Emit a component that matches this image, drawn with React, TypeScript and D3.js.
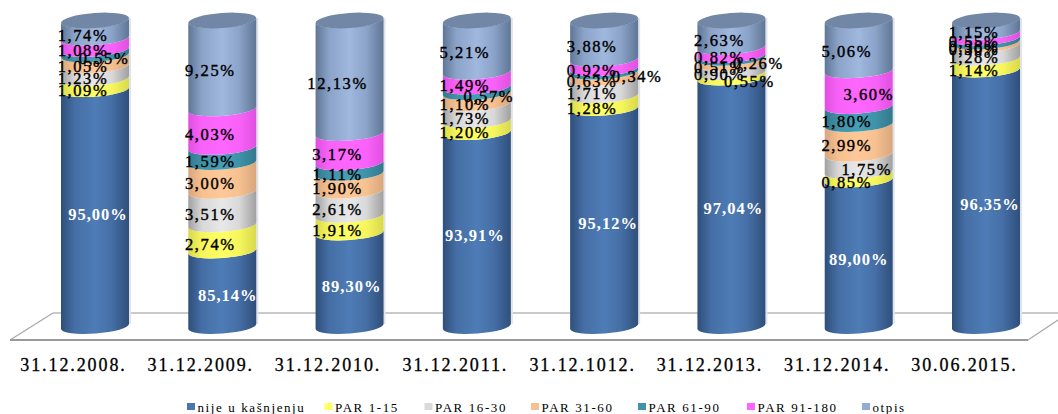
import React from "react";
import * as d3 from "d3";

const categories = ["31.12.2008.", "31.12.2009.", "31.12.2010.", "31.12.2011.", "31.12.1012.", "31.12.2013.", "31.12.2014.", "30.06.2015."];
const seriesNames = ["nije u kašnjenju", "PAR 1-15", "PAR 16-30", "PAR 31-60", "PAR 61-90", "PAR 91-180", "otpis"];
const nijeUKasnjenju = [95.0, 85.14, 89.3, 93.91, 95.12, 97.04, 89.0, 96.35];
const par1to15 = [1.09, 2.74, 1.91, 1.2, 1.28, 0.55, 0.85, 1.14];
const par16to30 = [1.23, 3.51, 2.61, 1.73, 1.71, 0.9, 1.75, 1.28];
const par31to60 = [1.05, 3.0, 1.9, 1.1, 0.63, 0.51, 2.99, 0.3];
const par61to90 = [0.55, 1.59, 1.11, 0.57, 0.34, 0.26, 1.8, 0.38];
const par91to180 = [1.08, 4.03, 3.17, 1.49, 0.92, 0.82, 3.6, 0.55];
const otpis = [1.74, 9.25, 12.13, 5.21, 3.88, 2.63, 5.06, 1.15];
const allSeries = [nijeUKasnjenju, par1to15, par16to30, par31to60, par61to90, par91to180, otpis];

// hand-moved data labels, as in the source chart (px relative to the default spot)
const BASE_DX = -12;
const blueDx = [3, 5.5, 2, -2, 4, 2, 0, 4];
const movedDx: Record<string, number> = { "0-4": 21, "3-4": 24, "4-4": 45, "5-1": 30, "5-4": 39, "6-2": 20, "6-5": 22 };
const legendSwatchX = [187, 324.5, 424.5, 531, 638, 747, 862];

const colors = [
  { edge: "#2f4f7a", mid: "#456ea5", light: "#4e7cb6" },
  { edge: "#d8d84e", mid: "#f6f65c", light: "#ffff66" },
  { edge: "#a0a0a0", mid: "#d8d8d8", light: "#e8e8e8" },
  { edge: "#d8a67e", mid: "#f6c08f", light: "#ffc899" },
  { edge: "#34788c", mid: "#3f92a8", light: "#469fb6" },
  { edge: "#e050e0", mid: "#f862f8", light: "#ff66ff" },
  { edge: "#5f7696", mid: "#8ba3c8", light: "#a0b8de" },
];
const swatchColors = ["#4a76ae", "#ffff66", "#d9d9d9", "#f6c08f", "#3f92a8", "#ff66ff", "#94acd2"];

const W = 1058, H = 414;
const CYL_W = 68, TILT = 5, RY = 7, Y_TOP = 23, Y_BOTTOM = 329;
const x = d3.scalePoint<string>().domain(categories).range([95, 986]);
const y = d3.scaleLinear().domain([70.7, 100]).range([Y_BOTTOM, Y_TOP]);
const RX = Math.hypot(CYL_W / 2, TILT / 2);
const ROT = (Math.atan2(-TILT, CYL_W) * 180) / Math.PI;

function band(xl: number, top: number, bottom: number) {
  const xr = xl + CYL_W;
  const arc = (x2: number, y2: number, sweep: number) => ` A${RX} ${RY} ${ROT} 0 ${sweep} ${x2} ${y2}`;
  return `M${xl} ${top}` + arc(xr, top - TILT, 0) + ` L${xr} ${bottom - TILT}` + arc(xl, bottom, 1) + " Z";
}

const labelFont = "'Liberation Serif', 'Times New Roman', serif";
const fmt = (v: number) => v.toFixed(2).replace(".", ",") + "%";

export default function App() {
  const columns = categories.map((cat, c) => {
    const vals = allSeries.map((s) => s[c]);
    const total = d3.sum(vals);
    let cum = 0;
    const segs = vals.map((v, s) => {
      const start = cum;
      cum += (v / total) * 100;
      return { s, v, y0: s === 0 ? Y_BOTTOM : y(start), y1: y(cum) };
    });
    return { cat, c, cx: x(cat)!, segs };
  });

  return (
    <svg width={W} height={H} viewBox={`0 0 ${W} ${H}`} style={{ position: "absolute", left: 0, top: 0, background: "#fff" }}>
      <defs>
        {colors.map((col, i) => (
          <linearGradient key={i} id={`g${i}`} x1="0" x2="1" y1="0" y2="0">
            <stop offset="0" stopColor={col.edge} />
            <stop offset="0.2" stopColor={col.mid} />
            <stop offset="0.5" stopColor={col.light} />
            <stop offset="0.75" stopColor={col.mid} />
            <stop offset="1" stopColor={col.edge} />
          </linearGradient>
        ))}
      </defs>

      {/* floor */}
      <g fill="none">
        <path d="M53 313 L1058 313" stroke="#b8b8b8" strokeWidth={1.5} />
        <path d="M10 340 L53 313" stroke="#a8a8a8" strokeWidth={1.2} />
        <path d="M1028 340 L1058 320" stroke="#a8a8a8" strokeWidth={1.2} />
        <path d="M10 340 L1028 340" stroke="#9a9a9a" strokeWidth={2} />
      </g>

      {columns.map(({ cat, cx, segs }) => {
        const xl = cx - CYL_W / 2;
        return (
          <g key={cat}>
            <rect x={xl + CYL_W} y={Y_TOP - TILT} width={2} height={Y_BOTTOM - Y_TOP} fill="#dfe3ea" />
            {segs.map((g) => (
              <path key={g.s} d={band(xl, g.y1, g.y0)} fill={`url(#g${g.s})`} />
            ))}
            <ellipse cx={cx} cy={Y_TOP - TILT / 2} rx={RX} ry={RY + 0.5} fill="#7287a6" transform={`rotate(${ROT} ${cx} ${Y_TOP - TILT / 2})`} />
          </g>
        );
      })}

      {/* data labels */}
      {columns.map(({ cat, c, cx, segs }) =>
        segs.map((g) => {
          const dx = g.s === 0 ? blueDx[c] : BASE_DX + (movedDx[`${c}-${g.s}`] ?? 0);
          const white = g.s === 0;
          return (
            <text
              key={cat + g.s}
              x={cx + dx}
              y={(g.y0 + g.y1) / 2 + 3.5}
              dy="0.35em"
              textAnchor="middle"
              fontFamily={labelFont}
              fontSize={16.5}
              letterSpacing={white ? 1 : 1.6}
              fontWeight={white ? 700 : 400}
              fill={white ? "#fff" : "#000"}
              stroke={white ? "none" : "#000"}
              strokeWidth={0.4}
            >
              {fmt(g.v)}
            </text>
          );
        })
      )}

      {/* category axis */}
      {categories.map((cat) => (
        <text key={cat} x={x(cat)! - 21.5} y={365} dy="0.35em" textAnchor="middle" fontFamily={labelFont} fontSize={18} letterSpacing={1.9} fill="#000" stroke="#000" strokeWidth={0.3}>
          {cat}
        </text>
      ))}

      {/* legend */}
      {seriesNames.map((name, i) => (
        <g key={name}>
          <rect x={legendSwatchX[i]} y={403} width={8} height={7} fill={swatchColors[i]} />
          <text x={legendSwatchX[i] + 10.5} y={407} dy="0.35em" fontFamily={labelFont} fontSize={13} letterSpacing={1.6} fill="#000">
            {name}
          </text>
        </g>
      ))}
    </svg>
  );
}
